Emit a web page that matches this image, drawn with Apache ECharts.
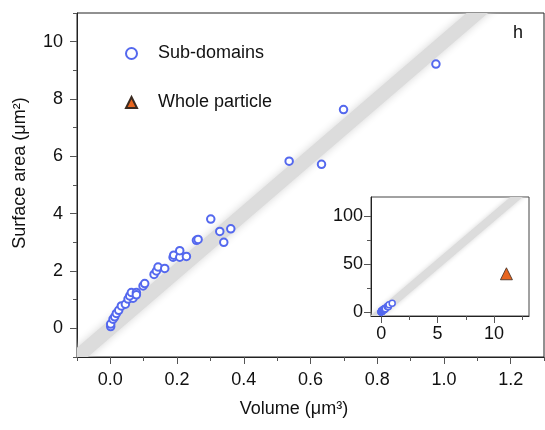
<!DOCTYPE html>
<html>
<head>
<meta charset="utf-8">
<script src="https://cdn.jsdelivr.net/npm/echarts@6/dist/echarts.min.js"></script>
<style>
  html, body { margin: 0; padding: 0; background: #fff; }
  #chart { width: 545px; height: 430px; }
</style>
</head>
<body>
<div id="chart"></div>
<script>
// sub-domain volumes (µm³) and surface areas (µm²)
const subVolume = [
  0.001, 0.001, 0.008, 0.013, 0.018, 0.025, 0.033, 0.045, 0.053, 0.068,
  0.058, 0.063, 0.078, 0.078, 0.098, 0.103, 0.131, 0.138, 0.143, 0.163,
  0.188, 0.190, 0.208, 0.208, 0.228, 0.258, 0.263, 0.301, 0.328, 0.340,
  0.361, 0.536, 0.633, 0.699, 0.976
]
const subArea = [
  0.06, 0.15, 0.32, 0.40, 0.52, 0.63, 0.78, 0.84, 1.02, 1.05,
  1.13, 1.25, 1.25, 1.17, 1.48, 1.56, 1.88, 2.00, 2.14, 2.09,
  2.48, 2.55, 2.48, 2.71, 2.51, 3.07, 3.10, 3.81, 3.38, 3.00,
  3.47, 5.83, 5.72, 7.63, 9.22
]
// whole particle
const wholeVolume = [11.1]
const wholeArea = [40]

// gray guide line: area = slope * volume
const fitSlope = 10

// axis ranges and tick labels
const mainXRange = [-0.1, 1.3]
const mainYRange = [-1, 11]
const mainXLabels = [0, 0.2, 0.4, 0.6, 0.8, 1.0, 1.2]
const mainXMinor = [-0.1, 0.1, 0.3, 0.5, 0.7, 0.9, 1.1, 1.3]
const mainYLabels = [0, 2, 4, 6, 8, 10]
const mainYMinor = [-1, 1, 3, 5, 7, 9, 11]
const insetXRange = [-0.9, 13.1]
const insetYRange = [-4, 120]
const insetXLabels = [0, 5, 10]
const insetXMinor = [2.5, 7.5, 12.5]
const insetYLabels = [0, 50, 100]
const insetYMinor = [25, 75]

const FONT = 'Liberation Sans, Arial, sans-serif'
const BLUE = '#5468ee'
const ORANGE = '#e8651f'
const AXIS = '#222'

const subPoints = subVolume.map((v, i) => [v, subArea[i]])
const wholePoints = wholeVolume.map((v, i) => [v, wholeArea[i]])
function fitLine(range) {
  const x0 = range[0] - 1
  const x1 = range[1] + 1
  return [[x0, fitSlope * x0, x1, fitSlope * x1]]
}

function mainAxis(range, labels, margin, opts) {
  return Object.assign({
    type: 'value',
    min: range[0],
    max: range[1],
    axisLine: { show: true, onZero: false, lineStyle: { color: AXIS, width: 1 } },
    axisTick: { show: true, customValues: labels, length: 7, lineStyle: { color: '#555' } },
    axisLabel: { customValues: labels, color: '#111', fontSize: 18, fontFamily: FONT, margin: margin },
    splitLine: { show: false }
  }, opts)
}
function minorAxis(range, minor, opts) {
  return Object.assign({
    type: 'value',
    min: range[0],
    max: range[1],
    axisLine: { show: false, onZero: false },
    axisTick: { show: true, customValues: minor, length: 4, lineStyle: { color: '#555' } },
    axisLabel: { show: false },
    splitLine: { show: false }
  }, opts)
}

// thick soft gray band, clipped exactly to the grid
function bandSeries(axisIndex, width, blur) {
  return {
    type: 'custom',
    xAxisIndex: axisIndex,
    yAxisIndex: axisIndex,
    data: fitLine(axisIndex === 0 ? mainXRange : insetXRange),
    encode: { x: [0, 2], y: [1, 3] },
    clip: true,
    silent: true,
    z: 1,
    renderItem: function (params, api) {
      const p0 = api.coord([api.value(0), api.value(1)])
      const p1 = api.coord([api.value(2), api.value(3)])
      return {
        type: 'line',
        shape: { x1: p0[0], y1: p0[1], x2: p1[0], y2: p1[1] },
        style: { stroke: '#dcdcdc', lineWidth: width, shadowBlur: blur, shadowColor: '#d6d6d6' }
      }
    }
  }
}

const chart = echarts.init(document.getElementById('chart'), null, { renderer: 'canvas' })

const option = {
  animation: false,
  grid: [
    { left: 77, right: 1, top: 13, bottom: 73, show: true, borderColor: AXIS, borderWidth: 1 },
    { left: 371, top: 197, width: 158, height: 119, show: true, borderColor: '#444', borderWidth: 1 }
  ],
  xAxis: [
    mainAxis(mainXRange, mainXLabels, 14, { gridIndex: 0, position: 'bottom',
      axisLabel: { customValues: mainXLabels, color: '#111', fontSize: 18, fontFamily: FONT, margin: 14,
        formatter: v => v.toFixed(1) } }),
    minorAxis(mainXRange, mainXMinor, { gridIndex: 0, position: 'bottom' }),
    mainAxis(insetXRange, insetXLabels, 9, { gridIndex: 1, position: 'bottom' }),
    minorAxis(insetXRange, insetXMinor, { gridIndex: 1, position: 'bottom' })
  ],
  yAxis: [
    mainAxis(mainYRange, mainYLabels, 14, { gridIndex: 0, position: 'left' }),
    minorAxis(mainYRange, mainYMinor, { gridIndex: 0, position: 'left' }),
    mainAxis(insetYRange, insetYLabels, 8, { gridIndex: 1, position: 'left' }),
    minorAxis(insetYRange, insetYMinor, { gridIndex: 1, position: 'left' })
  ],
  legend: {
    orient: 'vertical',
    left: 120,
    top: 39,
    itemWidth: 11,
    itemHeight: 11,
    itemGap: 30,
    data: ['Sub-domains', 'Whole particle'],
    textStyle: { fontSize: 18, fontFamily: FONT, color: '#111', lineHeight: 19, padding: [0, 0, 0, 16] }
  },
  graphic: [
    { type: 'text', x: 20, y: 173, rotation: Math.PI / 2,
      style: { text: 'Surface area (μm²)', fontSize: 18, fontFamily: FONT, fill: '#111', align: 'center', verticalAlign: 'middle' } },
    { type: 'text', x: 294, y: 409,
      style: { text: 'Volume (μm³)', fontSize: 18, fontFamily: FONT, fill: '#111', align: 'center', verticalAlign: 'middle' } },
    { type: 'text', x: 518, y: 33,
      style: { text: 'h', fontSize: 18, fontFamily: FONT, fill: '#111', align: 'center', verticalAlign: 'middle' } }
  ],
  series: [
    bandSeries(0, 14, 9),
    bandSeries(2, 8, 5),
    {
      name: 'Sub-domains',
      type: 'scatter',
      xAxisIndex: 0,
      yAxisIndex: 0,
      data: subPoints,
      symbol: 'circle',
      symbolSize: 7.5,
      itemStyle: { color: '#fff', borderColor: BLUE, borderWidth: 2, opacity: 1 },
      z: 3
    },
    {
      name: 'Sub-domains',
      type: 'scatter',
      xAxisIndex: 2,
      yAxisIndex: 2,
      data: subPoints,
      symbol: 'circle',
      symbolSize: 6,
      itemStyle: { color: '#fff', borderColor: BLUE, borderWidth: 1.5, opacity: 1 },
      z: 3
    },
    {
      name: 'Whole particle',
      type: 'scatter',
      xAxisIndex: 2,
      yAxisIndex: 2,
      data: wholePoints,
      symbol: 'triangle',
      symbolSize: 12,
      itemStyle: { color: ORANGE, borderColor: '#3a2a20', borderWidth: 0.8, opacity: 1 },
      z: 3
    }
  ]
}

chart.setOption(option)
</script>
</body>
</html>
